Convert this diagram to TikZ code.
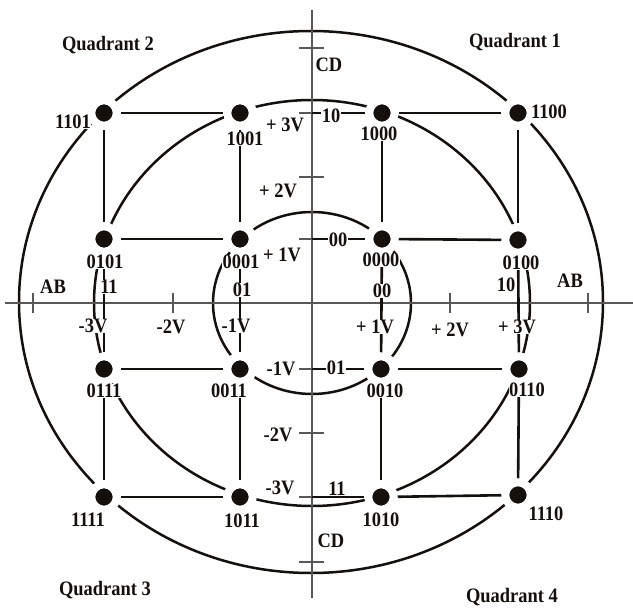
\documentclass[tikz,border=0pt]{standalone}
\usepackage{fontspec}
\setmainfont{Liberation Serif}[FakeStretch=0.9]
\usetikzlibrary{positioning}
\definecolor{QamInk}{RGB}{22,16,12}
\definecolor{QamAxis}{RGB}{88,88,88}
\tikzset{
  qam/dot/.style={
    circle,
    fill=QamInk,
    draw=white,
    line width=8pt,
    minimum size=25.5pt,
    inner sep=0pt
  },
  qam/grid/.style={line width=2.6pt, draw=QamInk},
  qam/ring/.style={line width=2.5pt, draw=QamInk},
  qam/axis/.style={line width=2.2pt, draw=QamAxis},
  qam/label/.style={
    font=\fontsize{20.5}{22}\selectfont\bfseries,
    text=QamInk,
    fill=white,
    inner sep=0.5pt
  }
}

\begin{document}
\begin{tikzpicture}[x=1pt,y=-1pt]
  \fill[white] (0,0) rectangle (633,610);
  \useasboundingbox (0,0) rectangle (633,610);
  \draw[qam/ring] (311,302) ellipse [x radius=292pt, y radius=271pt];
  \draw[qam/ring] (312,303) ellipse [x radius=218pt, y radius=203pt];
  \draw[qam/ring] (312,303) ellipse [x radius=99pt, y radius=91pt];
  \coordinate (abW) at (5,303);
  \coordinate (abE) at (633,303);
  \coordinate (cdN) at (312,10);
  \coordinate (cdS) at (312,598);
  \draw[qam/axis] (abW) -- (abE);
  \draw[qam/axis] (cdN) -- (cdS);
  \foreach \x in {33,104,173,240,381,450,518,588}{\draw[qam/axis] (\x,293) -- (\x,313);}
  \foreach \y in {48,113,177,239,369,433,497,562}{\draw[qam/axis] (299,\y) -- (324,\y);}
  \coordinate (cd3) at (312,113);
  \coordinate (cd1) at (312,239);
  \coordinate (cdm1) at (312,369);
  \coordinate (cdm3) at (312,497);
  \node[qam/dot] (d1101) at (104,113) {};
  \node[qam/dot] (d1001) at (240,113) {};
  \node[qam/dot] (d1000) at (382,113) {};
  \node[qam/dot] (d1100) at (518,113) {};
  \node[qam/dot] (d0101) at (104,239) {};
  \node[qam/dot] (d0001) at (240,239) {};
  \node[qam/dot] (d0000) at (382,239) {};
  \node[qam/dot] (d0100) at (518,240) {};
  \node[qam/dot] (d0111) at (104,369) {};
  \node[qam/dot] (d0011) at (240,369) {};
  \node[qam/dot] (d0010) at (381,369) {};
  \node[qam/dot] (d0110) at (519,369) {};
  \node[qam/dot] (d1111) at (104,497) {};
  \node[qam/dot] (d1011) at (240,497) {};
  \node[qam/dot] (d1010) at (381,497) {};
  \node[qam/dot] (d1110) at (518,495) {};
  \foreach \a/\b in {d1101/d1001,d1000/d1100,d0101/d0001,d0000/d0100,d0111/d0011,d0010/d0110,d1111/d1011,d1010/d1110,
    d1101/d0101,d0101/d0111,d0111/d1111,d1001/d0001,d0001/d0011,d0011/d1011,
    d1000/d0000,d0000/d0010,d0010/d1010,d1100/d0100,d0100/d0110,d0110/d1110}{\draw[qam/grid] (\a) -- (\b);}
  \foreach \a/\b in {cd3/d1000,cd1/d0000,cdm1/d0010,cdm3/d1010}{\draw[qam/grid] (\a) -- (\b);}
  \node[qam/label] at (108,45) {Quadrant 2};
  \node[qam/label] at (515,42) {Quadrant 1};
  \node[qam/label] at (105,590) {Quadrant 3};
  \node[qam/label] at (512,597) {Quadrant 4};
  \node[qam/label] at (329,65) {CD};
  \node[qam/label] at (331,541) {CD};
  \node[qam/label] at (53,287) {AB};
  \node[qam/label] at (570,281) {AB};
  \node[qam/label] at (73,122) {1101};
  \node[qam/label] at (245,139) {1001};
  \node[qam/label] at (379,134) {1000};
  \node[qam/label] at (549,112) {1100};
  \node[qam/label] at (105,262) {0101};
  \node[qam/label] at (241,262) {0001};
  \node[qam/label] at (381,260) {0000};
  \node[qam/label] at (521,263) {0100};
  \node[qam/label] at (104,391) {0111};
  \node[qam/label] at (229,391) {0011};
  \node[qam/label] at (385,391) {0010};
  \node[qam/label] at (527,390) {0110};
  \node[qam/label] at (88,520) {1111};
  \node[qam/label] at (242,521) {1011};
  \node[qam/label] at (381,520) {1010};
  \node[qam/label] at (546,514) {1110};
  \node[qam/label] at (285,125) {+ 3V};
  \node[qam/label] at (331,116) {10};
  \node[qam/label] at (278,191) {+ 2V};
  \node[qam/label] at (282,255) {+ 1V};
  \node[qam/label] at (338,240) {00};
  \node[qam/label] at (281,369) {-1V};
  \node[qam/label] at (336,368) {01};
  \node[qam/label] at (278,435) {-2V};
  \node[qam/label] at (280,488) {-3V};
  \node[qam/label] at (337,489) {11};
  \node[qam/label] at (109,287) {11};
  \node[qam/label] at (242,290) {01};
  \node[qam/label] at (382,291) {00};
  \node[qam/label] at (506,285) {10};
  \node[qam/label] at (93,326) {-3V};
  \node[qam/label] at (171,327) {-2V};
  \node[qam/label] at (236,326) {-1V};
  \node[qam/label] at (375,327) {+ 1V};
  \node[qam/label] at (450,330) {+ 2V};
  \node[qam/label] at (517,327) {+ 3V};
\end{tikzpicture}
\end{document}
